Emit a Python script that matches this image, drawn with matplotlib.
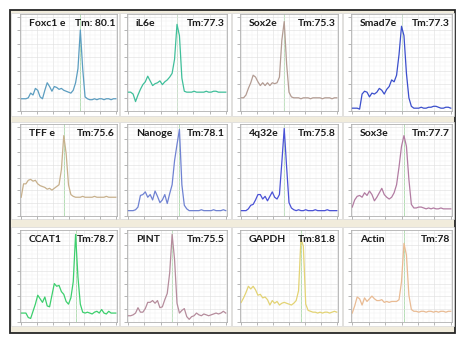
import numpy as np
import matplotlib
matplotlib.use("Agg")
import matplotlib.pyplot as plt
from matplotlib.patches import Rectangle

plt.rcParams['font.family'] = ['Lato', 'DejaVu Sans']

# ---- data -------------------------------------------------------------
genes = ["Foxc1 e", "iL6e", "Sox2e", "Smad7e",
         "TFF e", "Nanoge", "4q32e", "Sox3e",
         "CCAT1", "PINT", "GAPDH", "Actin"]
tm_labels = ["Tm: 80.1", "Tm:77.3", "Tm:75.3", "Tm:77.3",
             "Tm:75.6", "Tm:78.1", "Tm:75.8", "Tm:77.7",
             "Tm:78.7", "Tm:75.5", "Tm:81.8", "Tm:78"]
colors = ["#5b9dc0", "#3fbf9a", "#b39c93", "#3b4fcc",
          "#c7b08c", "#6f82d2", "#4a52d6", "#b27ca2",
          "#3dcf6e", "#b58c9c", "#e3d374", "#e9bb93"]

temps = np.arange(55, 96)  # melt temperature grid (41 points)

foxc1 = [0.13, 0.13, 0.13, 0.14, 0.19, 0.17, 0.24, 0.22, 0.15, 0.13, 0.22, 0.30, 0.26, 0.21,
         0.26, 0.25, 0.23, 0.24, 0.22, 0.21, 0.20, 0.19, 0.22, 0.30, 0.45, 0.86, 0.45, 0.15,
         0.13, 0.12, 0.12, 0.13, 0.12, 0.13, 0.13, 0.12, 0.13, 0.13, 0.12, 0.13, 0.13]
il6 = [0.20, 0.20, 0.18, 0.10, 0.17, 0.23, 0.28, 0.31, 0.37, 0.32, 0.27, 0.29, 0.30, 0.32,
       0.28, 0.31, 0.33, 0.36, 0.40, 0.55, 0.92, 0.80, 0.35, 0.21, 0.20, 0.20, 0.20, 0.21,
       0.20, 0.20, 0.20, 0.20, 0.21, 0.20, 0.20, 0.21, 0.21, 0.20, 0.20, 0.20, 0.20]
sox2 = [0.14, 0.14, 0.17, 0.24, 0.30, 0.38, 0.36, 0.31, 0.27, 0.30, 0.27, 0.30, 0.27, 0.30,
        0.29, 0.30, 0.36, 0.75, 0.95, 0.50, 0.20, 0.15, 0.14, 0.14, 0.14, 0.13, 0.14, 0.14,
        0.14, 0.13, 0.14, 0.14, 0.14, 0.14, 0.13, 0.14, 0.14, 0.14, 0.13, 0.14, 0.14]
smad7 = [0.03, 0.03, 0.03, 0.02, 0.18, 0.21, 0.20, 0.15, 0.19, 0.18, 0.20, 0.24, 0.22, 0.18,
         0.23, 0.26, 0.33, 0.31, 0.38, 0.60, 0.90, 0.80, 0.40, 0.14, 0.05, 0.03, 0.03, 0.03,
         0.04, 0.03, 0.03, 0.04, 0.04, 0.05, 0.05, 0.04, 0.03, 0.03, 0.04, 0.04, 0.03]
tff = [0.21, 0.36, 0.36, 0.40, 0.41, 0.39, 0.40, 0.36, 0.34, 0.33, 0.32, 0.30, 0.31, 0.29,
       0.31, 0.33, 0.35, 0.52, 0.90, 0.70, 0.35, 0.24, 0.22, 0.21, 0.21, 0.21, 0.22, 0.21,
       0.21, 0.21, 0.21, 0.22, 0.21, 0.21, 0.21, 0.21, 0.22, 0.21, 0.21, 0.21, 0.21]
nanog = [0.06, 0.06, 0.06, 0.07, 0.10, 0.23, 0.24, 0.27, 0.21, 0.24, 0.18, 0.28, 0.22, 0.15,
         0.18, 0.24, 0.14, 0.25, 0.35, 0.62, 0.80, 0.97, 0.35, 0.12, 0.08, 0.06, 0.06, 0.06,
         0.06, 0.06, 0.07, 0.06, 0.06, 0.06, 0.06, 0.07, 0.06, 0.06, 0.06, 0.07, 0.06]
q32 = [0.06, 0.06, 0.06, 0.08, 0.12, 0.13, 0.18, 0.24, 0.24, 0.19, 0.22, 0.17, 0.22, 0.27,
       0.21, 0.19, 0.24, 0.60, 0.98, 0.55, 0.15, 0.09, 0.07, 0.06, 0.07, 0.06, 0.06, 0.07,
       0.06, 0.06, 0.06, 0.07, 0.06, 0.06, 0.06, 0.06, 0.07, 0.06, 0.06, 0.06, 0.06]
sox3 = [0.10, 0.18, 0.22, 0.23, 0.21, 0.26, 0.23, 0.28, 0.24, 0.17, 0.21, 0.26, 0.31, 0.24,
        0.21, 0.19, 0.21, 0.26, 0.35, 0.55, 0.78, 0.90, 0.78, 0.41, 0.13, 0.09, 0.09, 0.10,
        0.10, 0.09, 0.08, 0.09, 0.08, 0.09, 0.08, 0.08, 0.09, 0.08, 0.08, 0.08, 0.08]
ccat1 = [0.10, 0.10, 0.10, 0.05, 0.04, 0.12, 0.20, 0.30, 0.26, 0.22, 0.28, 0.18, 0.17, 0.30,
         0.43, 0.40, 0.41, 0.34, 0.31, 0.23, 0.20, 0.27, 0.45, 0.98, 0.50, 0.20, 0.11, 0.10,
         0.11, 0.10, 0.09, 0.11, 0.12, 0.10, 0.14, 0.10, 0.09, 0.12, 0.10, 0.10, 0.10]
pint = [0.07, 0.07, 0.08, 0.10, 0.16, 0.11, 0.11, 0.15, 0.22, 0.22, 0.24, 0.21, 0.24, 0.16,
        0.17, 0.25, 0.32, 0.55, 0.98, 0.70, 0.21, 0.10, 0.13, 0.15, 0.06, 0.03, 0.06, 0.07,
        0.10, 0.08, 0.07, 0.09, 0.08, 0.07, 0.08, 0.09, 0.10, 0.09, 0.10, 0.12, 0.10]
gapdh = [0.22, 0.27, 0.33, 0.40, 0.37, 0.40, 0.36, 0.30, 0.31, 0.27, 0.28, 0.25, 0.19, 0.24,
         0.21, 0.23, 0.19, 0.21, 0.22, 0.21, 0.20, 0.19, 0.21, 0.24, 0.35, 0.93, 0.85, 0.20,
         0.13, 0.12, 0.11, 0.11, 0.10, 0.11, 0.10, 0.11, 0.11, 0.10, 0.11, 0.12, 0.11]
actin = [0.10, 0.18, 0.28, 0.26, 0.19, 0.27, 0.23, 0.26, 0.29, 0.26, 0.24, 0.24, 0.25, 0.22,
         0.23, 0.22, 0.23, 0.23, 0.23, 0.25, 0.45, 0.88, 0.75, 0.30, 0.14, 0.12, 0.12, 0.11,
         0.12, 0.12, 0.11, 0.12, 0.12, 0.11, 0.12, 0.11, 0.12, 0.12, 0.11, 0.12, 0.12]

series = [foxc1, il6, sox2, smad7, tff, nanog, q32, sox3, ccat1, pint, gapdh, actin]

# ---- layout (pixels) --------------------------------------------------
W, H = 467, 340
fig = plt.figure(figsize=(W / 100, H / 100), dpi=100)
fig.patch.set_facecolor("white")

def fx(x):
    return x / W

def fy(y):
    return 1 - y / H

# outer frame with beige fill
fig.patches.append(Rectangle((fx(10), fy(333)), fx(445), (323) / H,
                             transform=fig.transFigure, facecolor="#f1ecdc",
                             edgecolor="#262626", lw=1.3, zorder=-3))

col_white = [(11, 119), (120, 231), (232, 342), (343, 454)]
col_plot = [(20, 117), (127, 227), (240, 338), (351, 452)]
row_white = [(13, 116), (122, 219), (227, 326)]
row_plot = [(14, 111), (124, 216), (230, 322)]

for r in range(3):
    for c in range(4):
        k = r * 4 + c
        wx0, wx1 = col_white[c]
        wy0, wy1 = row_white[r]
        fig.patches.append(Rectangle((fx(wx0), fy(wy1)), (wx1 - wx0) / W, (wy1 - wy0) / H,
                                     transform=fig.transFigure, facecolor="white",
                                     edgecolor="#d8d8d8", lw=0.5, zorder=-2))
        px0, px1 = col_plot[c]
        py0, py1 = row_plot[r]
        ax = fig.add_axes([fx(px0), fy(py1), (px1 - px0) / W, (py1 - py0) / H])
        ax.set_facecolor("white")
        y = np.asarray(series[k])
        ax.plot(temps, y, color=colors[k], lw=0.9)
        peak_t = temps[int(np.argmax(y))]
        ax.axvline(peak_t, color="#a8d8a8", lw=0.6, zorder=1)
        ax.set_xlim(temps[0] - 0.5, temps[-1] + 0.5)
        ax.set_ylim(0, 1.03)
        ax.set_xticks(np.linspace(temps[0], temps[-1], 7))
        ax.set_xticks(np.linspace(temps[0], temps[-1], 19), minor=True)
        ax.set_yticks(np.linspace(0, 1, 8))
        ax.set_yticks(np.linspace(0, 1, 22), minor=True)
        ax.grid(True, which="major", color="#dedede", lw=0.4)
        ax.grid(True, which="minor", color="#efefef", lw=0.3)
        ax.set_xticklabels([])
        ax.set_yticklabels([])
        ax.tick_params(which="major", length=2, width=0.5, color="#999999")
        ax.tick_params(which="minor", length=0)
        for s in ax.spines.values():
            s.set_color("#b0b0b0")
            s.set_linewidth(0.6)
        ax.text(0.09, 0.9, genes[k], transform=ax.transAxes, fontsize=7.5,
                fontweight="bold", color="#1a1a1a", ha="left", va="center")
        ax.text(0.98, 0.9, tm_labels[k], transform=ax.transAxes, fontsize=7.5,
                fontweight="bold", color="#1a1a1a", ha="right", va="center")

fig.savefig("out.png", dpi=100, facecolor="white")
